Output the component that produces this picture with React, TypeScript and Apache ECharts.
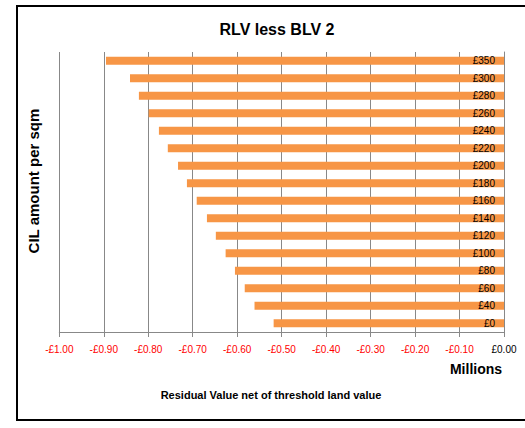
import React, { useEffect, useRef } from "react";
import * as echarts from "echarts";

const categories = ["£0", "£40", "£60", "£80", "£100", "£120", "£140", "£160", "£180", "£200", "£220", "£240", "£260", "£280", "£300", "£350"];
const residualValues = [-0.518, -0.561, -0.583, -0.605, -0.626, -0.648, -0.668, -0.691, -0.713, -0.733, -0.756, -0.776, -0.799, -0.821, -0.841, -0.895];

const titleText = "RLV less BLV 2";
const yTitle = "CIL amount per sqm";
const xTitle = "Residual Value net of threshold land value";
const unitText = "Millions";

const FONT = "Arial, 'Liberation Sans', sans-serif";

export default function App() {
  const ref = useRef<HTMLDivElement>(null);
  useEffect(() => {
    if (!ref.current) return;
    const chart = echarts.init(ref.current, null, { renderer: "svg" });
    chart.setOption({
      animation: false,
      backgroundColor: "#ffffff",
      title: {
        text: titleText,
        left: 272,
        top: 16,
        textAlign: "center",
        textStyle: { fontFamily: FONT, fontSize: 16, fontWeight: "bold", color: "#000" },
      },
      grid: { left: 59.3, right: 21, top: 52, bottom: 96, containLabel: false },
      xAxis: {
        type: "value",
        min: -1,
        max: 0,
        interval: 0.1,
        axisLine: { show: true, lineStyle: { color: "#888", width: 1 } },
        axisTick: { show: true, length: 5, lineStyle: { color: "#888" } },
        splitLine: { show: true, lineStyle: { color: "#888", width: 1 } },
        axisLabel: {
          margin: 12,
          fontFamily: FONT,
          fontSize: 10,
          formatter: (v: number) => (v < -1e-9 ? "-" : "") + "£" + Math.abs(v).toFixed(2),
          color: (v: any) => (Number(v) < -1e-9 ? "#ff0000" : "#000000"),
        },
      },
      yAxis: {
        type: "category",
        data: categories,
        position: "right",
        z: 5,
        axisLine: { show: true, onZero: false, lineStyle: { color: "#888", width: 1 } },
        axisTick: { show: false },
        axisLabel: { inside: true, margin: 9, fontFamily: FONT, fontSize: 10, color: "#000" },
      },
      series: [
        {
          type: "bar",
          data: residualValues,
          barWidth: 8,
          itemStyle: { color: "#f79646" },
        },
      ],
      graphic: [
        {
          type: "rect",
          shape: { x: 17, y: 6, width: 520, height: 414 },
          style: { fill: "none", stroke: "#000", lineWidth: 2 },
          silent: true,
        },
        {
          type: "text",
          x: 33,
          y: 181,
          rotation: Math.PI / 2,
          style: {
            text: yTitle,
            fontFamily: FONT,
            fontSize: 15,
            fontWeight: "bold",
            fill: "#000",
            align: "center",
            verticalAlign: "middle",
          },
        },
        {
          type: "text",
          x: 476,
          y: 369,
          style: {
            text: unitText,
            fontFamily: FONT,
            fontSize: 14,
            fontWeight: "bold",
            fill: "#000",
            align: "center",
            verticalAlign: "middle",
          },
        },
        {
          type: "text",
          x: 271,
          y: 395,
          style: {
            text: xTitle,
            fontFamily: FONT,
            fontSize: 11,
            fontWeight: "bold",
            fill: "#000",
            align: "center",
            verticalAlign: "middle",
          },
        },
      ],
    });
    return () => chart.dispose();
  }, []);
  return (
    <div
      ref={ref}
      style={{ position: "fixed", left: 0, top: 0, width: 525, height: 428 }}
    />
  );
}
